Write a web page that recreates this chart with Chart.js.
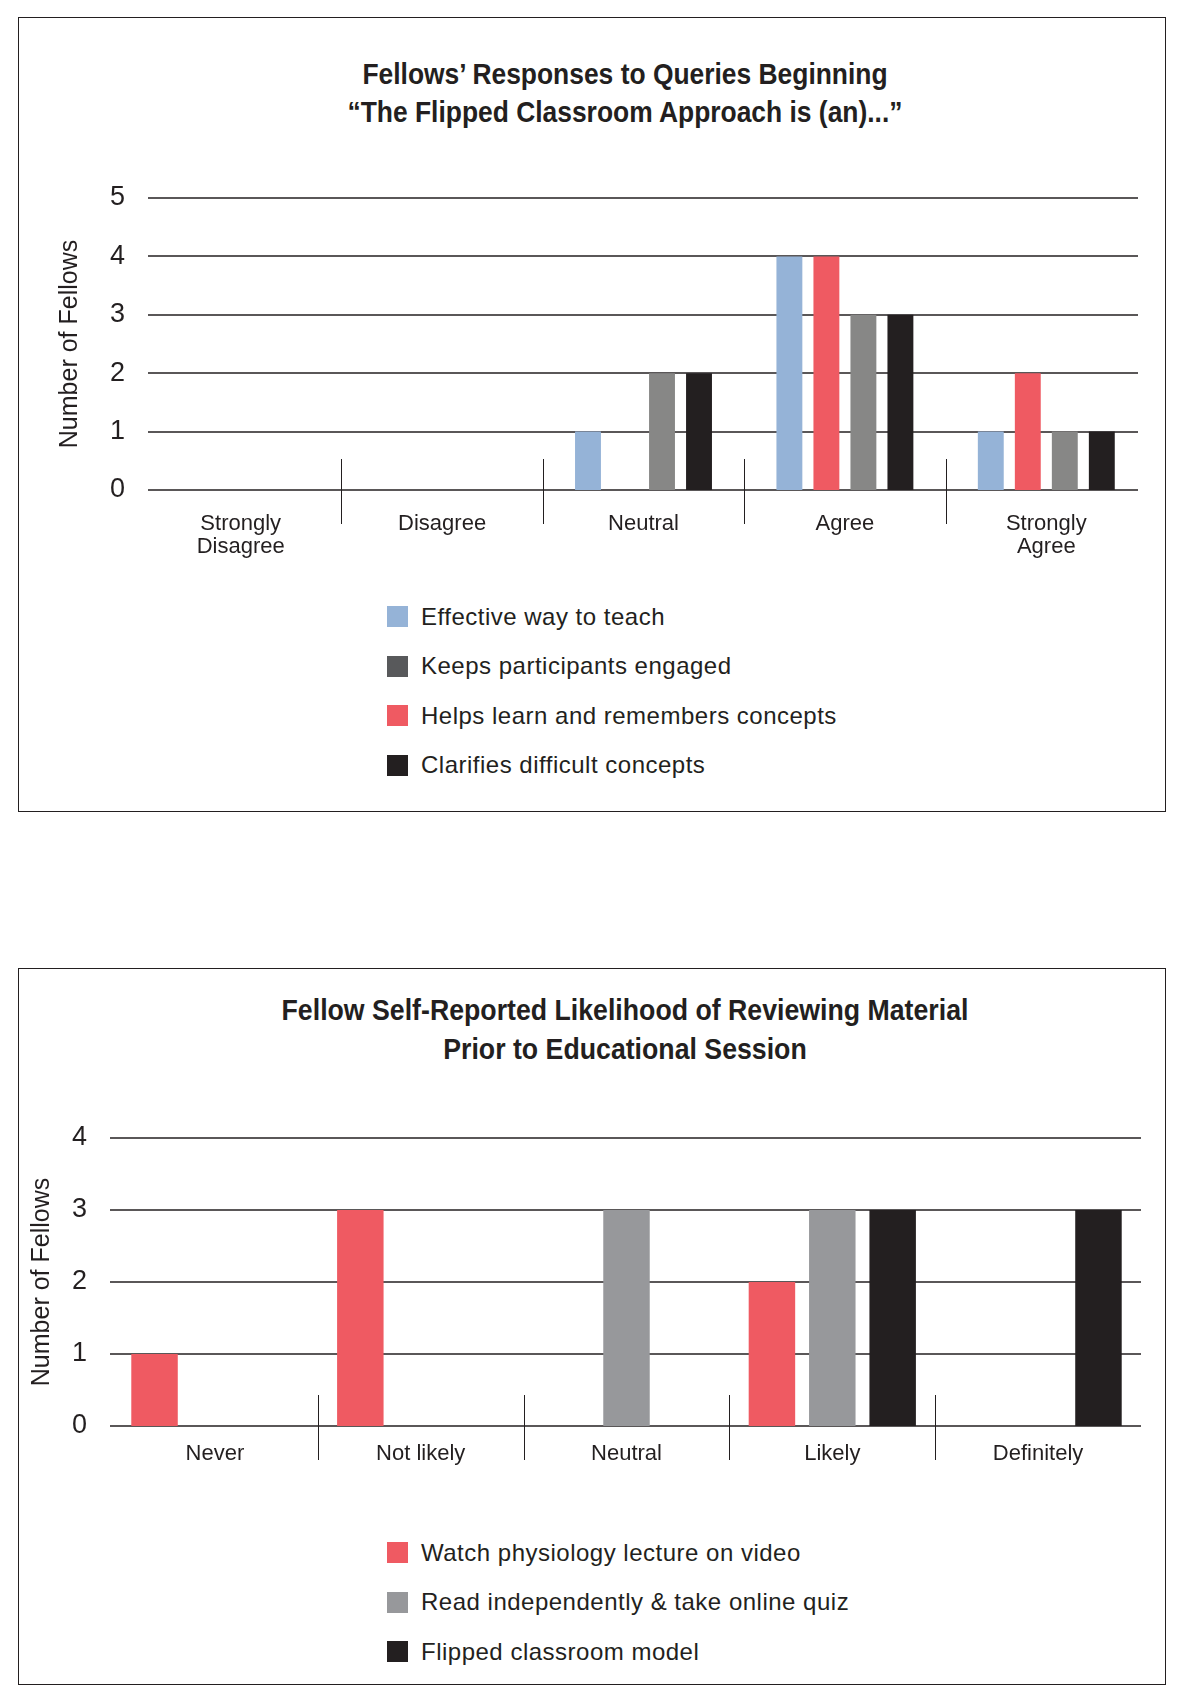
<!DOCTYPE html>
<html lang="en">
<head>
    <meta charset="UTF-8">
    <title>Flipped Classroom Survey</title>
    <script src="https://cdn.jsdelivr.net/npm/chart.js"></script>
    <style>
        body { margin: 0; background: #fff; }
        #page { position: relative; width: 1184px; height: 1703px; }
        .box { position: absolute; left: 18px; width: 1148px; box-sizing: border-box; border: 1.5px solid #231f20; }
        canvas { position: absolute; left: 0; }
        .title { position: absolute; left: 175px; width: 900px; text-align: center; white-space: nowrap;
                 font: bold 30px/39px 'Liberation Sans', Arial, sans-serif; color: #231f20;
                 transform: scaleX(0.88); transform-origin: center; }
        .legend { position: absolute; left: 387px; font-family: 'Liberation Sans', Arial, sans-serif;
                  font-size: 24px; letter-spacing: 0.5px; color: #231f20; }
        .legend div { height: 49.5px; display: flex; align-items: center; white-space: nowrap; }
        .legend span { display: inline-block; width: 21px; height: 21px; margin-right: 13px; }
    </style>
</head>
<body>
<div id="page">
    <div class="box" style="top:17px;height:795px"></div>
    <div class="box" style="top:968px;height:717px"></div>
    <div class="title" style="top:55px;line-height:38px">Fellows’ Responses to Queries Beginning<br>“The Flipped Classroom Approach is (an)...”</div>
    <div class="title" style="top:989.5px;transform:scaleX(0.89)">Fellow Self-Reported Likelihood of Reviewing Material<br>Prior to Educational Session</div>
    <canvas id="agreeChart" width="1184" height="543" style="top:17px"></canvas>
    <canvas id="reviewChart" width="1184" height="528" style="top:968px"></canvas>
    <div class="legend" id="agreeLegend" style="top:592px"></div>
    <div class="legend" id="reviewLegend" style="top:1528px"></div>
</div>

<script>
    // chart 1: "The flipped classroom approach is (an)..."
    const agreeLabels = [['Strongly', 'Disagree'], 'Disagree', 'Neutral', 'Agree', ['Strongly', 'Agree']];
    const effectiveWay = [0, 0, 1, 4, 1];
    const helpsLearn = [0, 0, 0, 4, 2];
    const keepsEngaged = [0, 0, 2, 3, 1];
    const clarifies = [0, 0, 2, 3, 1];
    const agreeTicks = [0, 1, 2, 3, 4, 5];

    // chart 2: likelihood of reviewing material
    const reviewLabels = ['Never', 'Not likely', 'Neutral', 'Likely', 'Definitely'];
    const watchVideo = [1, 3, 0, 2, 0];
    const readQuiz = [0, 0, 3, 3, 0];
    const flippedModel = [0, 0, 0, 3, 3];
    const reviewTicks = [0, 1, 2, 3, 4];

    const ink = '#231f20';
    const blue = '#95b3d7';
    const red = '#ef5a62';
    const gray = '#878786';
    const darkGray = '#58595b';
    const lightGray = '#97989b';

    Chart.defaults.font.family = "'Liberation Sans', Arial, sans-serif";
    Chart.defaults.color = ink;
    Chart.defaults.animation = false;

    // horizontal rules at each y tick, inset a little from the plot edges
    const rules = {
        id: 'rules',
        beforeDatasetsDraw(chart, args, opts) {
            const y = chart.scales.y, a = chart.chartArea, ctx = chart.ctx;
            ctx.save();
            ctx.strokeStyle = ink;
            ctx.lineWidth = 1.3;
            y.ticks.forEach(t => {
                const py = Math.round(y.getPixelForValue(t.value));
                ctx.beginPath();
                ctx.moveTo(a.left + opts.insetLeft, py);
                ctx.lineTo(a.right - opts.insetRight, py);
                ctx.stroke();
            });
            ctx.restore();
        }
    };

    // short category dividers that straddle the zero line
    const separators = {
        id: 'separators',
        afterDatasetsDraw(chart, args, opts) {
            const x = chart.scales.x, y = chart.scales.y, ctx = chart.ctx;
            const base = y.getPixelForValue(0);
            ctx.save();
            ctx.strokeStyle = ink;
            ctx.lineWidth = 1;
            for (let i = 1; i < chart.data.labels.length; i++) {
                const px = Math.round((x.getPixelForValue(i - 1) + x.getPixelForValue(i)) / 2) + 0.5;
                ctx.beginPath();
                ctx.moveTo(px, base - opts.up);
                ctx.lineTo(px, base + opts.down);
                ctx.stroke();
            }
            ctx.restore();
        }
    };

    function makeChart(id, labels, datasets, ticks, o) {
        return new Chart(document.getElementById(id), {
            type: 'bar',
            data: { labels: labels, datasets: datasets },
            plugins: [rules, separators],
            options: {
                responsive: false,
                categoryPercentage: o.catPct,
                barPercentage: o.barPct,
                layout: { padding: { left: 0, right: o.right, top: o.top, bottom: 0 } },
                plugins: {
                    legend: { display: false },
                    tooltip: { enabled: false },
                    title: { display: false },
                    separators: { up: 31, down: 34 },
                    rules: { insetLeft: o.insetLeft, insetRight: o.insetRight }
                },
                scales: {
                    x: {
                        grid: { display: false },
                        border: { display: false },
                        ticks: { font: { size: 22, lineHeight: 1.05 }, padding: o.xPad, maxRotation: 0, autoSkip: false },
                        afterFit: s => { s.height = o.xHeight; }
                    },
                    y: {
                        min: ticks[0],
                        max: ticks[ticks.length - 1],
                        afterBuildTicks: s => { s.ticks = ticks.map(v => ({ value: v })); },
                        grid: { display: false, drawTicks: false },
                        border: { display: false },
                        ticks: { font: { size: 27 }, padding: o.yPad },
                        title: {
                            display: true,
                            text: 'Number of Fellows',
                            font: { size: 25, lineHeight: 1.2 },
                            padding: { top: o.yTitle - 15, bottom: 0 }
                        },
                        afterFit: s => { s.width = o.left; }
                    }
                }
            }
        });
    }

    makeChart('agreeChart', agreeLabels, [
        { label: 'Effective way to teach', data: effectiveWay, backgroundColor: blue },
        { label: 'Helps learn and remembers concepts', data: helpsLearn, backgroundColor: red },
        { label: 'Keeps participants engaged', data: keepsEngaged, backgroundColor: gray },
        { label: 'Clarifies difficult concepts', data: clarifies, backgroundColor: ink }
    ], agreeTicks, {
        top: 181, left: 140, right: 37, xHeight: 70, xPad: 14, yPad: 15, yTitle: 70,
        insetLeft: 8, insetRight: 9, catPct: 0.735, barPct: 0.70
    });

    makeChart('reviewChart', reviewLabels, [
        { label: 'Watch physiology lecture on video', data: watchVideo, backgroundColor: red },
        { label: 'Read independently & take online quiz', data: readQuiz, backgroundColor: lightGray },
        { label: 'Flipped classroom model', data: flippedModel, backgroundColor: ink }
    ], reviewTicks, {
        top: 170, left: 112, right: 43, xHeight: 70, xPad: 8, yPad: 25, yTitle: 42,
        insetLeft: -2, insetRight: 0, catPct: 0.88, barPct: 0.77
    });

    // legends are listed in a different order than the bars
    function fillLegend(id, names, colors) {
        const box = document.getElementById(id);
        names.forEach((n, i) => {
            const row = document.createElement('div');
            row.innerHTML = '<span style="background:' + colors[i] + '"></span>' + n.replace('&', '&amp;');
            box.appendChild(row);
        });
    }
    fillLegend('agreeLegend',
        ['Effective way to teach', 'Keeps participants engaged', 'Helps learn and remembers concepts', 'Clarifies difficult concepts'],
        [blue, darkGray, red, ink]);
    fillLegend('reviewLegend',
        ['Watch physiology lecture on video', 'Read independently & take online quiz', 'Flipped classroom model'],
        [red, lightGray, ink]);
</script>
</body>
</html>
